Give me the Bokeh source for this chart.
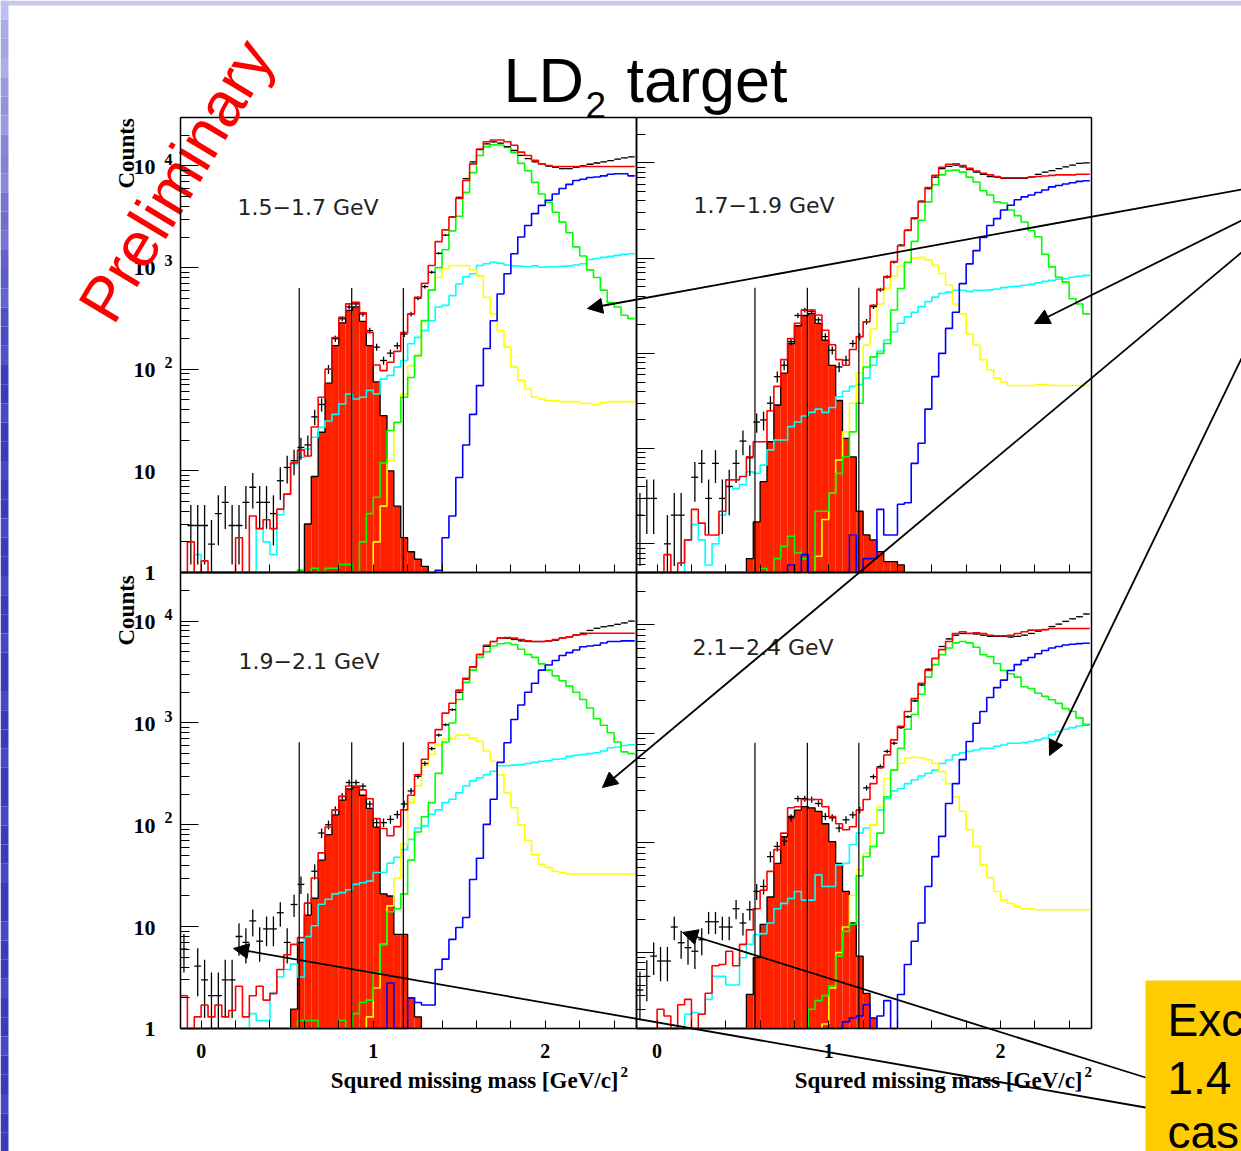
import math
from bokeh.plotting import figure
from bokeh.models import (Range1d, LogScale, LinearScale, LinearAxis, LogAxis,
                          FixedTicker, Arrow, NormalHead)
from bokeh.core.properties import value
from bokeh.embed import file_html
from bokeh.resources import INLINE

W, H = 1241, 1151

# ---------------- binning (squared missing mass, GeV^2) ----------------
BIN_START = -0.12
BIN_WIDTH = 0.04
N_BINS = 66
EDGES = [round(BIN_START + BIN_WIDTH * k, 4) for k in range(N_BINS + 1)]
CENTERS = [round(BIN_START + BIN_WIDTH * (k + 0.5), 4) for k in range(N_BINS)]
Z = [0] * 11

# ---------------- panel 1 : 1.5-1.7 GeV ----------------
P1_DATA = [0, 2.9, 2.9, 2.9, 1.9, 3.8, 4.9, 2.9, 2.9, 4.9, 6.9,
           4.9, 4.9, 3.8, 8, 10.8, 12.6, 17, 18, 34, 45, 100,
           200, 314, 410, 440, 350, 240, 165, 122, 144, 170, 222,
           350, 500, 650, 900, 1380, 2090, 3150, 4900, 7500, 11000, 14500,
           16500, 17300, 16800, 15500, 14200, 12700, 11800, 11000, 10500, 10000, 9700,
           9400, 9400, 9700, 10000, 10400, 10700, 11000, 11300, 11700, 12000, 12300]
P1_TOTAL = [0, 2, 0, 1.3, 0, 0, 0, 0, 2.2, 0, 3.6,
            2.7, 3.3, 2.7, 4.2, 5.9, 12, 16, 14, 27, 53, 100,
            205, 325, 440, 455, 360, 230, 110, 97, 117, 150, 230,
            350, 510, 700, 1050, 1800, 2350, 3150, 4800, 7200, 10500, 14700,
            17300, 18000, 18000, 17300, 16000, 13700, 12700, 11400, 10500, 10100, 9900,
            9900, 9900, 9900, 9900, 9900, 9900, 9900, 9900, 9900, 9900, 9900]
P1_SIGNAL = (Z + [0, 0, 0, 0, 0, 0, 1.05, 3, 8.8, 24, 73]
             + [171, 286, 380, 410, 296, 171, 75, 35, 10, 4.5, 2.2]
             + [1.6, 1.35, 1.15, 0, 0, 0, 0, 0, 0, 0, 0] + Z + Z)
P1_GREEN = (Z + [0, 0, 0, 0, 0, 0, 1.05, 0, 1.1, 0, 1.1]
            + [1.1, 1.2, 1.2, 0, 2, 3.8, 5.5, 12, 25, 30, 53]
            + [83, 136, 300, 600, 1000, 1500, 2300, 3200, 5500, 8600, 12700]
            + [15500, 16200, 16100, 15200, 13500, 10600, 9000, 6900, 5300, 4400, 3500]
            + [2800, 2200, 1600, 1300, 950, 800, 600, 450, 410, 340, 315])
P1_YELLOW = (Z + Z + [0, 0, 0, 0, 0, 0, 2, 4.5, 12.6, 30, 57]
             + [108, 136, 305, 600, 800, 980, 1050, 1050, 1050, 950, 830]
             + [510, 350, 240, 165, 105, 78, 64, 53, 51, 49, 49]
             + [48, 48, 48, 46, 46, 45, 47, 48, 48, 48, 48])
P1_CYAN = ([0, 0, 1.5, 0, 0, 0, 0, 0, 0, 0, 0]
           + [2.7, 2.0, 1.5, 3.7, 5.9, 11.7, 13.6, 16.4, 21.4, 26.8, 31]
           + [36, 45.5, 57, 51, 53, 62, 57, 80, 87, 105, 122]
           + [178, 206, 240, 300, 410, 425, 530, 690, 810, 870, 1050]
           + [1090, 1130, 1100, 1060, 1040, 1030, 1020, 1040, 1010, 1020, 1020]
           + [1030, 1040, 1060, 1090, 1200, 1230, 1260, 1290, 1320, 1350, 1370])
P1_BLUE = (Z + Z + Z + [0, 0, 0, 0, 1.05, 2.2, 3.6, 8.6, 18, 36, 69]
           + [160, 300, 550, 870, 1370, 2000, 2600, 3400, 4100, 4600, 5300]
           + [6000, 6600, 7200, 7400, 7700, 7800, 8000, 8300, 8400, 8400, 8000])

# ---------------- panel 2 : 1.7-1.9 GeV ----------------
P2_DATA = [2, 3, 3, 0, 1.0, 2, 2, 0, 5, 7, 3,
           7, 3, 4, 7, 12, 8, 19, 20, 30, 57, 75,
           133, 250, 285, 275, 225, 150, 108, 72, 85, 127, 150,
           215, 310, 466, 635, 910, 1370, 1970, 2600, 3960, 5360, 7100,
           8700, 9200, 9500, 9100, 8500, 8000, 7600, 7200, 7100, 6900, 6900,
           6900, 6900, 7100, 7600, 8000, 8300, 8700, 9100, 9500, 9900, 10000]
P2_TOTAL = [0, 0, 0, 0, 0.77, 0, 0.63, 1.1, 2.3, 1.65, 1.24,
            1.24, 2.2, 4.7, 4.7, 5.1, 8.2, 11.8, 11.8, 25, 45, 86,
            143, 207, 285, 285, 253, 175, 123, 86, 75, 110, 150,
            215, 320, 470, 640, 920, 1350, 1950, 2650, 3900, 5500, 7400,
            9000, 9700, 9800, 9400, 8800, 8200, 7800, 7500, 7200, 7000, 7000,
            7000, 7000, 7100, 7200, 7300, 7400, 7500, 7500, 7500, 7600, 7600]
P2_SIGNAL = (Z + [0, 0, 0, 0, 0, 0.7, 1.7, 4.5, 11.8, 28.7, 62]
             + [127, 195, 250, 262, 207, 138, 75, 32, 12.8, 8.2, 2.2]
             + [1.24, 1.1, 0.83, 0.65, 0.65, 0.6, 0, 0, 0, 0, 0] + Z + Z)
P2_GREEN = (Z + [0, 0, 0, 0, 0, 0, 0, 0.55, 0, 0.7, 0.94]
            + [1.2, 0.8, 0.7, 0.5, 2.2, 2.2, 3.4, 5.5, 8.2, 15, 30]
            + [72, 92, 100, 127, 285, 480, 900, 1500, 2500, 3900, 5900]
            + [7500, 8300, 8400, 8000, 7100, 6300, 5100, 4600, 3900, 3800, 3200]
            + [2800, 2400, 1950, 1680, 1100, 810, 630, 560, 375, 330, 260])
P2_YELLOW = (Z + Z + [0, 0, 0, 0, 0.74, 1.8, 3.4, 7.6, 15, 30, 62]
             + [122, 180, 330, 480, 650, 820, 920, 1000, 1020, 960, 840]
             + [690, 520, 330, 260, 160, 122, 86, 67, 55, 50, 46]
             + [46, 46, 46, 47, 47, 46, 46, 46, 46, 46, 46])
P2_CYAN = ([0, 0, 0, 0, 0, 0, 0, 1.1, 1.6, 1.1, 0.6]
           + [1.0, 2.0, 4.0, 3.8, 4.2, 5.7, 5.5, 6.7, 9.7, 12.3, 12.3]
           + [17, 19, 22, 24, 26, 24, 27, 35, 40, 45, 47]
           + [55, 75, 106, 138, 168, 207, 242, 270, 310, 350, 390]
           + [425, 440, 460, 460, 445, 460, 460, 465, 475, 490, 500]
           + [505, 520, 530, 550, 570, 585, 600, 610, 630, 645, 660])
P2_BLUE = (Z + Z + [0.6, 0, 0.77, 0, 0, 0, 0, 0, 0, 1.24, 0]
           + [0.7, 0.7, 2.3, 1.24, 1.24, 2.6, 2.7, 7, 11.4, 26, 57]
           + [100, 183, 270, 540, 870, 1200, 1650, 2200, 2600, 3200, 3600]
           + [4100, 4400, 4600, 4900, 5200, 5600, 5800, 6000, 6200, 6400, 6500])

# ---------------- panel 3 : 1.9-2.1 GeV ----------------
P3_DATA = [6, 0, 4.1, 3, 2.1, 2.1, 3, 3, 8, 7, 11.4,
           7.2, 9.5, 9.5, 13.7, 7, 16.5, 26, 17, 35, 83, 100,
           140, 190, 260, 260, 240, 160, 105, 105, 113, 126, 160,
           215, 300, 400, 560, 760, 960, 1350, 2000, 2700, 3550, 4700,
           5650, 6300, 6800, 6800, 6600, 6400, 6300, 6300, 6300, 6400, 6500,
           6800, 7000, 7300, 7600, 8100, 8500, 8800, 9000, 9300, 9600, 10000]
P3_TOTAL = [2.1, 1.0, 1.3, 1.7, 1.3, 1.7, 1.3, 1.5, 2.6, 1.3, 2.1,
            2.6, 1.9, 2.2, 3.8, 5.3, 6.7, 7.8, 17, 30, 53, 95,
            140, 190, 240, 240, 220, 180, 115, 92, 78, 96, 140,
            195, 310, 440, 640, 860, 1250, 1560, 2100, 2750, 3550, 4700,
            5800, 6300, 6800, 6900, 6800, 6600, 6400, 6300, 6300, 6400, 6600,
            6800, 7000, 7300, 7400, 7600, 7600, 7600, 7600, 7600, 7600, 7600]
P3_SIGNAL = (Z + [0, 0, 0, 0, 0, 1.55, 7, 13, 19, 45, 80]
             + [125, 175, 225, 235, 195, 145, 95, 21, 20, 8.4, 8.4]
             + [2.0, 1.3, 0, 0, 0, 0, 0, 0, 0, 0, 0] + Z + Z)
P3_GREEN = (Z + [0, 0, 0, 0, 0, 0, 1.2, 1.2, 1.2, 0, 0]
            + [0, 1.2, 0, 1.4, 1.8, 1.9, 3.5, 6.7, 14, 15, 21]
            + [45, 85, 120, 165, 320, 650, 1000, 1700, 2500, 3300, 4400]
            + [5000, 5700, 6000, 6100, 5900, 5300, 4700, 4400, 3800, 3300, 2900]
            + [2600, 2300, 2000, 1700, 1400, 1100, 950, 800, 650, 520, 500])
P3_YELLOW = (Z + Z + [0, 0, 0, 0, 0, 1.3, 2.5, 6.7, 16, 30, 65]
             + [165, 240, 380, 490, 610, 690, 700, 760, 760, 710, 660]
             + [530, 420, 310, 205, 147, 100, 70, 51, 41, 38, 35]
             + [34, 33, 33, 33, 33, 33, 33, 33, 33, 33, 33])
P3_CYAN = ([0, 0, 0, 0, 0, 0, 0, 0, 0, 0, 1.4]
           + [1.2, 1.2, 2.25, 3.2, 3.8, 4.3, 3.2, 8, 10.2, 16.6, 18.6]
           + [21, 21.6, 23, 26, 27, 28, 34, 34, 42, 48, 57]
           + [72, 93, 97, 127, 140, 165, 178, 206, 240, 270, 290]
           + [310, 335, 380, 380, 385, 390, 400, 410, 420, 425, 440]
           + [445, 470, 480, 490, 500, 510, 530, 570, 580, 600, 610])
P3_BLUE = (Z + Z + [0, 0, 0, 0, 0, 0, 0, 0, 2.8, 0, 0]
           + [2.0, 1.8, 1.7, 1.7, 3.8, 4.8, 7.5, 9.8, 12.3, 29, 47]
           + [101, 178, 410, 640, 1080, 1500, 2000, 2450, 3300, 3700, 4100]
           + [4600, 4900, 5200, 5600, 5700, 5800, 6100, 6300, 6300, 6400, 6400])

# ---------------- panel 4 : 2.1-2.4 GeV ----------------
P4_DATA = [4.5, 6, 9.2, 8.3, 8.3, 17, 12.2, 11, 10.2, 13, 19,
           19, 17, 17, 25, 18.5, 24.5, 36, 40, 75, 93, 104,
           170, 255, 255, 250, 230, 175, 170, 137, 163, 181, 200,
           320, 405, 500, 690, 820, 1140, 1430, 2000, 2800, 3900, 4900,
           6300, 7400, 8000, 8300, 8300, 8200, 8000, 7800, 7800, 7800, 7700,
           7800, 8000, 8300, 8700, 9000, 9600, 10100, 10700, 11300, 11800, 12500]
P4_TOTAL = [0, 0, 0, 3.0, 2.6, 0, 3.3, 3.7, 0, 2.7, 4.2,
            7.5, 7.7, 10.2, 7.5, 11.8, 16, 25, 37, 55, 87, 123,
            210, 215, 250, 250, 250, 215, 175, 150, 132, 141, 200,
            250, 350, 490, 640, 880, 1170, 1600, 2100, 2900, 3800, 4900,
            5900, 7000, 8300, 8600, 8300, 8400, 8300, 8000, 7900, 7900, 8000,
            8300, 8600, 8900, 8900, 9000, 9200, 9200, 9200, 9200, 9200, 9200]
P4_SIGNAL = (Z + [0, 0, 0, 0, 0, 4.1, 8.9, 18, 32, 65, 114]
             + [175, 200, 215, 210, 195, 150, 103, 65, 36, 18.5, 9.2]
             + [4.2, 2.5, 0, 0, 0, 0, 0, 0, 0, 0, 0] + Z + Z)
P4_GREEN = (Z + Z + [0, 0, 0, 3.0, 3.6, 4.0, 4.9, 9.2, 15.5, 18, 50]
            + [75, 93, 123, 265, 465, 735, 1100, 1500, 2300, 3300, 4300]
            + [5300, 6100, 6800, 7000, 6800, 6200, 5300, 5100, 4400, 3800, 3550]
            + [3300, 2700, 2600, 2350, 2200, 2050, 1900, 1700, 1600, 1400, 1200])
P4_YELLOW = (Z + Z + [0, 0, 0, 0, 0, 2.2, 4.7, 9.9, 17, 33, 57]
             + [80, 147, 215, 390, 465, 535, 600, 610, 600, 580, 535]
             + [450, 350, 265, 195, 132, 93, 63, 48, 36, 30, 28]
             + [26, 25, 25, 24.5, 24.5, 24.5, 24.5, 24.5, 24.5, 24.5, 24.5])
P4_CYAN = ([0, 0, 0, 0, 0, 0, 0, 2.7, 2.8, 2.7, 3.7]
           + [6, 6, 5, 5, 8.9, 11.8, 14.5, 14.8, 18.5, 25, 28]
           + [31, 36, 30, 30, 51, 40, 40, 63, 65, 97, 123]
           + [137, 147, 200, 255, 300, 315, 350, 380, 410, 435, 465]
           + [535, 575, 640, 670, 690, 710, 735, 735, 770, 790, 820]
           + [820, 830, 850, 880, 910, 980, 1050, 1100, 1140, 1180, 1230])
P4_BLUE = (Z + Z + [0, 0, 0, 0, 0, 0, 0, 0, 2.3, 2.5, 2.6]
           + [3.3, 1.8, 2.6, 3.6, 1.0, 4.1, 7.7, 12.6, 18.5, 40, 75]
           + [115, 230, 350, 580, 850, 1250, 1600, 2150, 2650, 3100, 3800]
           + [4300, 4700, 5000, 5400, 5800, 6100, 6300, 6500, 6600, 6700, 6750])

PANEL_LABELS = ["1.5\u22121.7 GeV", "1.7\u22121.9 GeV", "1.9\u22122.1 GeV", "2.1\u22122.4 GeV"]
X_TICK_VALUES = [0, 1, 2]
X_TICK_LABELS = ["0", "1", "2"]
X_MINOR = [round(0.2 * k, 1) for k in range(13)]
Y_TICK_VALUES = [1, 10, 100, 1000, 10000]
Y_TICK_MAIN = ["1", "10", "10", "10", "10"]
Y_TICK_SUP = ["2", "3", "4"]
CUT_LINES = [0.57, 0.875, 1.175]
X_RANGE = (-0.12, 2.53)

for nm, arr in list(globals().items()):
    if nm[:1] == "P" and nm[1:2].isdigit() and isinstance(arr, list):
        assert len(arr) == N_BINS, (nm, len(arr))

PANELS = [
    dict(box=(180, 636, 117, 572), yr=(1, 3e4), cut_top=630, ylab=True, xlab=False,
         data=P1_DATA, total=P1_TOTAL, signal=P1_SIGNAL, green=P1_GREEN,
         yellow=P1_YELLOW, cyan=P1_CYAN, blue=P1_BLUE),
    dict(box=(636, 1091, 117, 572), yr=(0.5, 3e4), cut_top=490, ylab=False, xlab=False,
         data=P2_DATA, total=P2_TOTAL, signal=P2_SIGNAL, green=P2_GREEN,
         yellow=P2_YELLOW, cyan=P2_CYAN, blue=P2_BLUE),
    dict(box=(180, 636, 572, 1028), yr=(1, 3e4), cut_top=646, ylab=True, xlab=True,
         data=P3_DATA, total=P3_TOTAL, signal=P3_SIGNAL, green=P3_GREEN,
         yellow=P3_YELLOW, cyan=P3_CYAN, blue=P3_BLUE),
    dict(box=(636, 1091, 572, 1028), yr=(2, 3e4), cut_top=830, ylab=False, xlab=True,
         data=P4_DATA, total=P4_TOTAL, signal=P4_SIGNAL, green=P4_GREEN,
         yellow=P4_YELLOW, cyan=P4_CYAN, blue=P4_BLUE),
]
LABEL_POS = [(237, 215), (693, 213), (238, 669), (692, 655)]

SERIF = value("Liberation Serif")
SANS = value("Liberation Sans")
DEJAVU = value("DejaVu Sans")
FILL = "#ff2000"
COLORS = dict(cyan="#00ffff", yellow="#ffff00", green="#00ff00", blue="#0000ff")
BASE_SHIFT = 0.37   # renderer places the alphabetic baseline ~0.37 em low; compensate

p = figure(width=W, height=H, x_range=Range1d(0, W), y_range=Range1d(H, 0),
           x_axis_location=None, y_axis_location=None, output_backend="svg",
           toolbar_location=None, min_border=0, outline_line_color=None,
           background_fill_color="white", border_fill_color="white")
p.grid.visible = False


def slide_text(x, y, s, size, font=SANS, angle=0.0, color="black", align="left", style="normal"):
    d = BASE_SHIFT * size
    p.text(x=[x - d * math.sin(angle)], y=[y - d * math.cos(angle)], text=[s], angle=angle,
           text_font=font, text_font_size="%dpx" % size, text_font_style=style,
           text_align=align, text_baseline="alphabetic", text_color=color)


# ---------- slide decoration (background border) ----------
p.quad(left=0, right=W, top=0, bottom=5, fill_color="#c9c9ee", line_color=None)
NSTRIP = 60
band_top, band_bot, band_col = [], [], []
for s in range(NSTRIP):
    t = s / (NSTRIP - 1)
    f = min(1.0, t * 3.0)
    g = int(178 - 120 * f + (14 if s % 3 == 0 else 0))
    band_top.append(H * s / NSTRIP)
    band_bot.append(H * (s + 1) / NSTRIP)
    band_col.append("#%02x%02x%02x" % (g, g, min(255, int(232 - 45 * f) + (8 if s % 3 == 0 else 0))))
p.quad(left=0, right=8, top=band_top, bottom=band_bot, fill_color=band_col, line_color=None)

# ---------- panel coordinate systems ----------
xr, xsc, yrg, ysc = {}, {}, {}, {}
for k, P in enumerate(PANELS):
    L, R, T, B = P["box"]
    xa, xb = X_RANGE
    ya, yb = P["yr"]
    kx = (xb - xa) / (R - L)
    xr["x%d" % k] = Range1d(start=xa - kx * L, end=xb + kx * (W - R))
    xsc["x%d" % k] = LinearScale()
    la, lb = math.log10(ya), math.log10(yb)
    ky = (lb - la) / (B - T)
    yrg["y%d" % k] = Range1d(start=10 ** (la - ky * (H - B)), end=10 ** (la + ky * B))
    ysc["y%d" % k] = LogScale()
p.extra_x_ranges = xr
p.extra_x_scales = xsc
p.extra_y_ranges = yrg
p.extra_y_scales = ysc


def step_path(vals, lo):
    xs, ys = [], []
    for i, v in enumerate(vals):
        c = v if v > lo else lo
        xs += [EDGES[i], EDGES[i + 1]]
        ys += [c, c]
    return xs, ys


for k, P in enumerate(PANELS):
    kw = dict(x_range_name="x%d" % k, y_range_name="y%d" % k)
    xa, xb = X_RANGE
    ya, yb = P["yr"]

    # filled signal histogram
    sig = P["signal"]
    idx = [i for i, v in enumerate(sig) if v > 0]
    p.quad(left=[EDGES[i] for i in idx], right=[EDGES[i + 1] for i in idx],
           bottom=ya, top=[max(sig[i], ya) for i in idx],
           fill_color=FILL, line_color=None, **kw)
    ox, oy = [EDGES[idx[0]]], [ya]
    for i in range(idx[0], idx[-1] + 1):
        c = max(sig[i], ya)
        ox += [EDGES[i], EDGES[i + 1]]
        oy += [c, c]
    ox.append(EDGES[idx[-1] + 1]); oy.append(ya)
    p.line(ox, oy, line_color="black", line_width=1.3, **kw)

    # components
    for nm in ["cyan", "yellow", "green", "blue"]:
        sx, sy = step_path(P[nm], ya)
        p.line(sx, sy, line_color=COLORS[nm], line_width=1.6, **kw)

    # data points with Poisson errors
    d = P["data"]
    vx0, vy0, vy1, hx0, hx1, hy = [], [], [], [], [], []
    for i, v in enumerate(d):
        if v <= 0 or v < ya:
            continue
        e = math.sqrt(v)
        vx0.append(CENTERS[i]); vy0.append(max(v - e, ya)); vy1.append(min(v + e, yb))
        hx0.append(EDGES[i]); hx1.append(EDGES[i + 1]); hy.append(v)
    p.segment(x0=vx0, y0=vy0, x1=vx0, y1=vy1, line_color="black", line_width=1.3, **kw)
    p.segment(x0=hx0, y0=hy, x1=hx1, y1=hy, line_color="black", line_width=1.3, **kw)

    # total fit
    sx, sy = step_path(P["total"], ya)
    p.line(sx, sy, line_color="#ff0000", line_width=1.6, **kw)

    # cut lines
    p.segment(x0=CUT_LINES, y0=[ya] * 3, x1=CUT_LINES, y1=[P["cut_top"]] * 3,
              line_color="black", line_width=1.2, **kw)

    # frame top / right
    p.segment(x0=[xa, xb], y0=[yb, ya], x1=[xb, xb], y1=[yb, yb],
              line_color="black", line_width=1.5, **kw)

    # axes
    majors = [t for t in Y_TICK_VALUES if ya <= t <= yb]
    minors = [m * 10 ** e for e in range(-1, 5) for m in range(2, 10) if ya <= m * 10 ** e <= yb]
    lax = LogAxis(fixed_location=xa, bounds=(ya, yb),
                  ticker=FixedTicker(ticks=majors, minor_ticks=minors),
                  major_tick_in=18, major_tick_out=0, minor_tick_in=9, minor_tick_out=0,
                  axis_line_width=1.5, axis_line_color="black",
                  major_tick_line_color="black", minor_tick_line_color="black",
                  major_label_overrides={t: "" for t in majors}, **kw)
    p.add_layout(lax, "left")
    bax = LinearAxis(fixed_location=ya, bounds=(xa, xb),
                     ticker=FixedTicker(ticks=X_MINOR, minor_ticks=[]),
                     major_tick_in=8, major_tick_out=0, minor_tick_in=0, minor_tick_out=0,
                     axis_line_width=1.5, axis_line_color="black",
                     major_tick_line_color="black",
                     major_label_overrides={t: "" for t in X_MINOR}, **kw)
    p.add_layout(bax, "below")

    if P["ylab"]:
        p.text(x=[xa] * 5, y=Y_TICK_VALUES, text=Y_TICK_MAIN, x_offset=-25,
               y_offset=9 - BASE_SHIFT * 22,
               text_align="right", text_baseline="alphabetic", text_font=SERIF,
               text_font_style="bold", text_font_size="22px", text_color="black", **kw)
        p.text(x=[xa] * 3, y=Y_TICK_VALUES[2:], text=Y_TICK_SUP, x_offset=-16,
               y_offset=-1 - BASE_SHIFT * 16,
               text_align="left", text_baseline="alphabetic", text_font=SERIF,
               text_font_style="bold", text_font_size="16px", text_color="black", **kw)
    if P["xlab"]:
        p.text(x=X_TICK_VALUES, y=[ya] * 3, text=X_TICK_LABELS, y_offset=30 - BASE_SHIFT * 20,
               text_align="center", text_baseline="alphabetic", text_font=SERIF,
               text_font_style="bold", text_font_size="20px", text_color="black", **kw)

    lx, ly = LABEL_POS[k]
    slide_text(lx, ly, PANEL_LABELS[k], 22, font=DEJAVU, color="#222222")

# ---------- axis titles ----------
for yb0 in [188, 645]:
    slide_text(135, yb0, "Counts", 23, font=SERIF, angle=math.pi / 2, style="bold")
for xr0 in [618, 1082]:
    slide_text(xr0, 1089, "Squred missing mass [GeV/c]", 23, font=SERIF, align="right", style="bold")
    slide_text(xr0 + 2, 1077, "2", 15, font=SERIF, style="bold")

# ---------- title ----------
slide_text(503, 103, "LD", 63)
slide_text(585, 118, "2", 37)
slide_text(626, 103, "target", 63)

# ---------- Preliminary ----------
slide_text(114, 327, "Preliminary", 63, angle=math.radians(59), color="#ff0000")

# ---------- yellow note box ----------
p.quad(left=1145, right=W, top=980, bottom=H, fill_color="#ffcc00", line_color=None)
slide_text(1167, 1037, "Exc", 46)
slide_text(1167, 1095, "1.4", 46)
slide_text(1167, 1149, "cas", 46)

# ---------- arrows ----------
ARROWS = [((1241, 189), (587, 308)), ((1241, 220), (1034, 323)),
          ((1241, 252), (602, 787)), ((1241, 358), (1049, 755)),
          ((1145, 1077), (682, 932)), ((1145, 1107), (233, 948))]
for (x0, y0), (x1, y1) in ARROWS:
    p.add_layout(Arrow(end=NormalHead(size=15, fill_color="black", line_color="black"),
                       x_start=x0, y_start=y0, x_end=x1, y_end=y1,
                       line_color="black", line_width=1.8))

open("out.html", "w").write(file_html(p, INLINE))
